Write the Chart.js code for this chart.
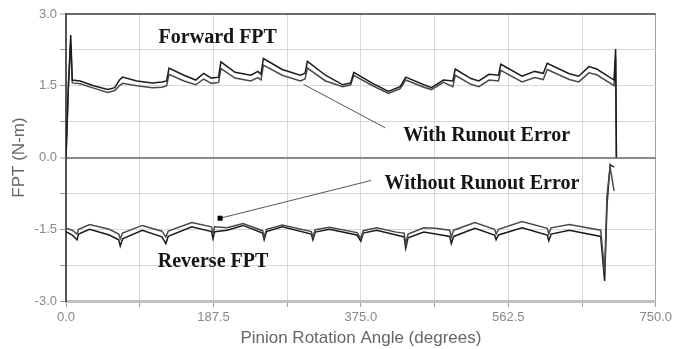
<!DOCTYPE html>
<html><head><meta charset="utf-8">
<script src="https://cdn.jsdelivr.net/npm/chart.js@4"></script>
<style>html,body{margin:0;padding:0;background:#fff;}</style>
</head><body>
<canvas id="c" width="675" height="349"></canvas>
<script>
// ---- data ----
const xTickLabels = ['0.0','187.5','375.0','562.5','750.0'];
const yTickLabels = ['-3.0','-1.5','0.0','1.5','3.0'];
const xTitle = 'Pinion Rotation Angle (degrees)';
const yTitle = 'FPT (N-m)';

const fwdAngle = [0,3,6,8,18,35,53,62,68,72,90,110,122,128,131,150,165,175,185,194,197,215,235,244,248,251,275,298,304,307,330,352,362,366,390,410,425,432,455,465,480,492,495,515,525,538,550,553,580,596,607,612,640,652,665,675,697,699,700];
const fwdWith = [0,1.5,2.56,1.62,1.6,1.5,1.42,1.46,1.62,1.68,1.6,1.56,1.58,1.6,1.87,1.72,1.62,1.76,1.66,1.68,2.0,1.78,1.72,1.8,1.74,2.07,1.84,1.72,1.76,2.01,1.72,1.52,1.56,1.78,1.55,1.38,1.48,1.68,1.52,1.46,1.62,1.6,1.85,1.65,1.6,1.74,1.72,1.95,1.7,1.8,1.76,1.97,1.75,1.7,1.9,1.85,1.62,2.27,0];
const fwdWithout = [0,1.45,2.4,1.56,1.54,1.45,1.36,1.4,1.5,1.55,1.5,1.46,1.47,1.5,1.74,1.6,1.52,1.64,1.55,1.57,1.86,1.66,1.6,1.67,1.62,1.93,1.72,1.6,1.64,1.87,1.6,1.48,1.52,1.72,1.5,1.34,1.44,1.62,1.47,1.42,1.57,1.48,1.72,1.53,1.48,1.62,1.6,1.82,1.58,1.67,1.63,1.84,1.63,1.58,1.77,1.73,1.5,2.1,0];

const revAngle = [0,8,14,16,30,55,67,69,72,97,122,127,130,160,185,187,189,205,225,250,252,255,275,312,314,317,335,370,375,378,395,420,430,432,435,455,470,488,490,493,520,545,547,550,580,612,614,617,640,680,685,688,692,697];
const revWithout = [-1.55,-1.62,-1.72,-1.6,-1.5,-1.62,-1.72,-1.85,-1.7,-1.52,-1.66,-1.8,-1.65,-1.45,-1.55,-1.7,-1.55,-1.52,-1.42,-1.58,-1.72,-1.55,-1.45,-1.6,-1.72,-1.56,-1.5,-1.62,-1.75,-1.58,-1.52,-1.62,-1.66,-1.9,-1.68,-1.56,-1.6,-1.65,-1.8,-1.65,-1.48,-1.62,-1.72,-1.62,-1.47,-1.62,-1.74,-1.6,-1.52,-1.65,-2.58,-1.0,-0.15,-0.2];
const revWith = [-1.48,-1.52,-1.6,-1.5,-1.4,-1.5,-1.6,-1.7,-1.58,-1.42,-1.54,-1.66,-1.54,-1.36,-1.45,-1.58,-1.45,-1.47,-1.38,-1.53,-1.66,-1.5,-1.41,-1.55,-1.66,-1.51,-1.46,-1.57,-1.69,-1.53,-1.47,-1.56,-1.58,-1.8,-1.6,-1.47,-1.48,-1.52,-1.66,-1.52,-1.36,-1.5,-1.6,-1.5,-1.34,-1.48,-1.6,-1.47,-1.4,-1.52,-2.4,-0.8,-0.2,-0.7];

// annotation texts (anchored in data units)
const notes = [
  {text:'Forward FPT', x:193, y:2.5},
  {text:'With Runout Error', x:535, y:0.46},
  {text:'Without Runout Error', x:529, y:-0.55},
  {text:'Reverse FPT', x:187, y:-2.18}
];
const arrows = [
  {x1:406, y1:0.62, x2:302, y2:1.53, head:false},
  {x1:388, y1:-0.48, x2:196, y2:-1.27, head:true}
];

function pts(xs, ys){ return xs.map((v,i)=>({x:v, y:ys[i]})); }

const annot = {
  id:'annot',
  afterDatasetsDraw(chart){
    const {ctx, scales:{x, y}} = chart;
    ctx.save();
    ctx.strokeStyle = '#555'; ctx.lineWidth = 1;
    arrows.forEach(a=>{
      const X1=x.getPixelForValue(a.x1), Y1=y.getPixelForValue(a.y1);
      const X2=x.getPixelForValue(a.x2), Y2=y.getPixelForValue(a.y2);
      ctx.beginPath(); ctx.moveTo(X1,Y1); ctx.lineTo(X2,Y2); ctx.stroke();
      if(a.head){ ctx.fillStyle='#000'; ctx.fillRect(X2-2.5,Y2-2.5,5,5); }
    });
    ctx.font = 'bold 20px "Liberation Serif", "DejaVu Serif", serif';
    ctx.textAlign = 'center'; ctx.textBaseline = 'middle'; ctx.fillStyle = '#151515';
    notes.forEach(n=>{ ctx.fillText(n.text, x.getPixelForValue(n.x), y.getPixelForValue(n.y)); });
    ctx.restore();
  }
};

const lineDs = (label, xs, ys, color) => ({
  label, data: pts(xs, ys), showLine:true, borderColor:color, backgroundColor:color,
  borderWidth:1.5, pointRadius:0, tension:0, fill:false
});

new Chart(document.getElementById('c'), {
  type:'scatter',
  data:{datasets:[
    lineDs('Forward FPT - With Runout Error', fwdAngle, fwdWith, '#1c1c1c'),
    lineDs('Forward FPT - Without Runout Error', fwdAngle, fwdWithout, '#4a4a4a'),
    lineDs('Reverse FPT - With Runout Error', revAngle, revWith, '#4a4a4a'),
    lineDs('Reverse FPT - Without Runout Error', revAngle, revWithout, '#1c1c1c')
  ]},
  options:{
    responsive:false, animation:false,
    layout:{padding:{left:0, right:15, top:14, bottom:0}},
    plugins:{legend:{display:false}, tooltip:{enabled:false}},
    scales:{
      x:{
        type:'linear', min:0, max:750,
        ticks:{stepSize:93.75, autoSkip:false, maxRotation:0, padding:3, color:'#888',
          font:{family:'"Liberation Sans", Arial, sans-serif', size:13},
          callback:(v,i)=> i%2===0 ? xTickLabels[i/2] : ''},
        grid:{color:c=> c.tick && c.tick.value===750 ? '#a0a0a0' : '#d8d8d8', lineWidth:1, tickLength:6, tickColor:'#999', tickWidth:1},
        border:{display:true, color:'#c0c0c0', width:3},
        title:{display:true, text:xTitle, color:'#666', font:{family:'"Liberation Sans", Arial, sans-serif', size:17}, padding:{top:0, bottom:0}},
        afterFit:s=>{ s.height = 48; }
      },
      y:{
        type:'linear', min:-3, max:3,
        ticks:{stepSize:0.75, autoSkip:false, padding:3, color:'#888',
          font:{family:'"Liberation Sans", Arial, sans-serif', size:13},
          callback:(v,i)=> i%2===0 ? yTickLabels[i/2] : ''},
        grid:{
          color:c=>{ const v=c.tick&&c.tick.value; return v===0 ? '#8a8a8a' : (v===3 ? '#6a6a6a' : '#d8d8d8'); },
          lineWidth:c=>{ const v=c.tick&&c.tick.value; return (v===0||v===3) ? 2 : 1; },
          tickLength:6, tickColor:'#999', tickWidth:1},
        border:{display:true, color:'#555', width:2},
        title:{display:true, text:yTitle, color:'#666', font:{family:'"Liberation Sans", Arial, sans-serif', size:17}, padding:{top:9, bottom:0}},
        afterFit:s=>{ s.width = 66; }
      }
    }
  },
  plugins:[annot]
});
</script>
</body></html>
